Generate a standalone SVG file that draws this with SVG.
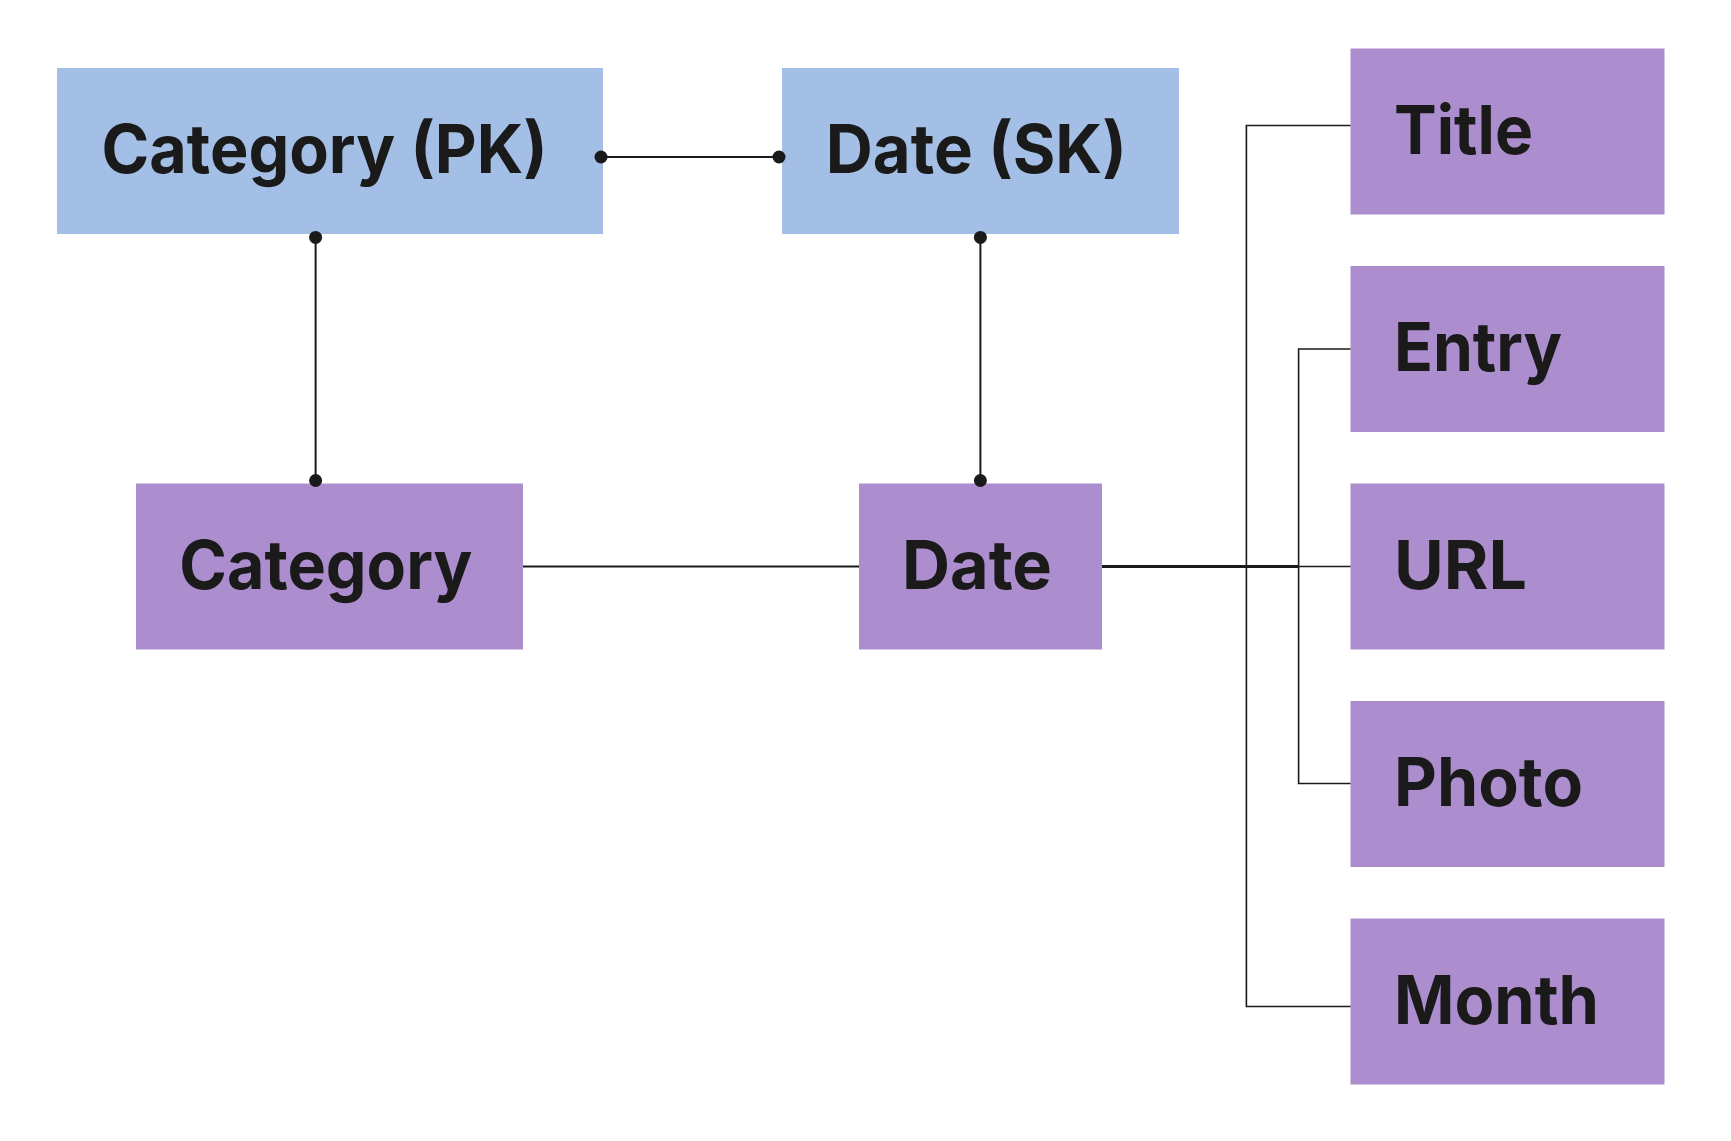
<svg xmlns="http://www.w3.org/2000/svg" width="1731" height="1141" viewBox="0 0 1731 1141">
<style>
.key{fill:#A4BFE5}
.attr{fill:#AC8ECE}
.lbl{font-family:"Inter","Lato","Liberation Sans",sans-serif;font-weight:700;font-size:67px;fill:#1A1A1A}
.c{text-anchor:middle}
.ln{stroke:#1A1A1A;stroke-width:2;fill:none}
.thick{stroke:#1A1A1A;stroke-width:3;fill:none}
.bus{stroke:#1A1A1A;stroke-width:1.6;fill:none}
.dot{fill:#1A1A1A}
</style>
<rect width="1731" height="1141" fill="#FFFFFF"/>
<g id="node-category-pk">
<rect class="key" x="57" y="68" width="546" height="166"/>
<text class="lbl c" x="324.5" y="173" textLength="446" lengthAdjust="spacingAndGlyphs">Category (PK)</text>
</g>
<g id="node-date-sk">
<rect class="key" x="782" y="68" width="397" height="166"/>
<text class="lbl c" x="976.3" y="173" textLength="301" lengthAdjust="spacingAndGlyphs">Date (SK)</text>
</g>
<g id="node-category">
<rect class="attr" x="136" y="483.5" width="387" height="166"/>
<text class="lbl c" x="325.8" y="589" textLength="293" lengthAdjust="spacingAndGlyphs">Category</text>
</g>
<g id="node-date">
<rect class="attr" x="859" y="483.5" width="243" height="166"/>
<text class="lbl c" x="977" y="589" textLength="150" lengthAdjust="spacingAndGlyphs">Date</text>
</g>
<g id="node-title">
<rect class="attr" x="1350.5" y="48.5" width="314" height="166"/>
<text class="lbl" x="1394" y="153.5" textLength="139" lengthAdjust="spacingAndGlyphs">Title</text>
</g>
<g id="node-entry">
<rect class="attr" x="1350.5" y="266" width="314" height="166"/>
<text class="lbl" x="1394" y="371" textLength="168" lengthAdjust="spacingAndGlyphs">Entry</text>
</g>
<g id="node-url">
<rect class="attr" x="1350.5" y="483.5" width="314" height="166"/>
<text class="lbl" x="1394" y="588.5" textLength="133" lengthAdjust="spacingAndGlyphs">URL</text>
</g>
<g id="node-photo">
<rect class="attr" x="1350.5" y="701" width="314" height="166"/>
<text class="lbl" x="1394" y="806" textLength="189" lengthAdjust="spacingAndGlyphs">Photo</text>
</g>
<g id="node-month">
<rect class="attr" x="1350.5" y="918.5" width="314" height="166"/>
<text class="lbl" x="1394" y="1023.5" textLength="205" lengthAdjust="spacingAndGlyphs">Month</text>
</g>
<g id="connectors">
<line class="ln" x1="601" y1="157" x2="779" y2="157"/>
<line class="ln" x1="315.6" y1="237" x2="315.6" y2="481"/>
<line class="ln" x1="980.4" y1="237" x2="980.4" y2="481"/>
<line class="ln" x1="523" y1="566.5" x2="859" y2="566.5"/>
<line class="thick" x1="1102" y1="566.5" x2="1298.6" y2="566.5"/>
<line class="bus" x1="1298.6" y1="566.5" x2="1350.5" y2="566.5"/>
<polyline class="bus" points="1350.5,125.5 1246.4,125.5 1246.4,1006.5 1350.5,1006.5"/>
<polyline class="bus" points="1350.5,349 1298.6,349 1298.6,783.5 1350.5,783.5"/>
<circle class="dot" cx="601" cy="157" r="6.5"/>
<circle class="dot" cx="779" cy="157" r="6.5"/>
<circle class="dot" cx="315.6" cy="237.4" r="6.5"/>
<circle class="dot" cx="315.6" cy="480.5" r="6.5"/>
<circle class="dot" cx="980.4" cy="237.4" r="6.5"/>
<circle class="dot" cx="980.4" cy="480.5" r="6.5"/>
</g>
</svg>
